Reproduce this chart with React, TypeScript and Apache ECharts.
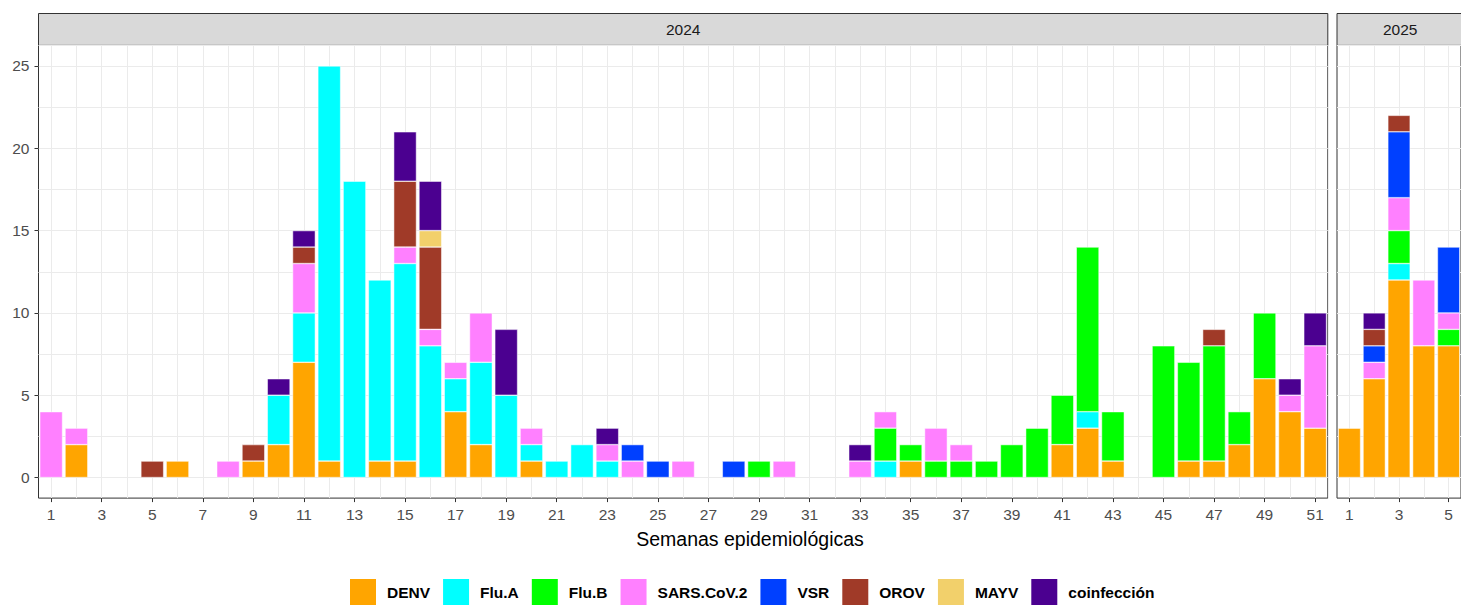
import React, { useEffect, useRef } from "react";
import * as echarts from "echarts";

const weeks2024 = ["1","2","3","4","5","6","7","8","9","10","11","12","13","14","15","16","17","18","19","20","21","22","23","24","25","26","27","28","29","30","31","32","33","34","35","36","37","38","39","40","41","42","43","44","45","46","47","48","49","50","51"];
const weeks2025 = ["1","2","3","4","5"];

const seriesNames = ["DENV", "Flu.A", "Flu.B", "SARS.CoV.2", "VSR", "OROV", "MAYV", "coinfección"];
const seriesColors = ["#FFA500", "#00FFFF", "#00FF00", "#FF80FF", "#0040FF", "#A03A28", "#F2D06B", "#4B0090"];

//                 1 2 3 4 5 6 7 8 9 10 11 12 13 14 15 16 17 18 19 20 21 22 23 24 25 26 27 28 29 30 31 32 33 34 35 36 37 38 39 40 41 42 43 44 45 46 47 48 49 50 51
const denv2024  = [0,2,0,0,0,1,0,0,1, 2, 7, 1, 0, 1, 1, 0, 4, 2, 0, 1, 0, 0, 0, 0, 0, 0, 0, 0, 0, 0, 0, 0, 0, 0, 1, 0, 0, 0, 0, 0, 2, 3, 1, 0, 0, 1, 1, 2, 6, 4, 3];
const fluA2024  = [0,0,0,0,0,0,0,0,0, 3, 3,24,18,11,12, 8, 2, 5, 5, 1, 1, 2, 1, 0, 0, 0, 0, 0, 0, 0, 0, 0, 0, 1, 0, 0, 0, 0, 0, 0, 0, 1, 0, 0, 0, 0, 0, 0, 0, 0, 0];
const fluB2024  = [0,0,0,0,0,0,0,0,0, 0, 0, 0, 0, 0, 0, 0, 0, 0, 0, 0, 0, 0, 0, 0, 0, 0, 0, 0, 1, 0, 0, 0, 0, 2, 1, 1, 1, 1, 2, 3, 3,10, 3, 0, 8, 6, 7, 2, 4, 0, 0];
const sars2024  = [4,1,0,0,0,0,0,1,0, 0, 3, 0, 0, 0, 1, 1, 1, 3, 0, 1, 0, 0, 1, 1, 0, 1, 0, 0, 0, 1, 0, 0, 1, 1, 0, 2, 1, 0, 0, 0, 0, 0, 0, 0, 0, 0, 0, 0, 0, 1, 5];
const vsr2024   = [0,0,0,0,0,0,0,0,0, 0, 0, 0, 0, 0, 0, 0, 0, 0, 0, 0, 0, 0, 0, 1, 1, 0, 0, 1, 0, 0, 0, 0, 0, 0, 0, 0, 0, 0, 0, 0, 0, 0, 0, 0, 0, 0, 0, 0, 0, 0, 0];
const orov2024  = [0,0,0,0,1,0,0,0,1, 0, 1, 0, 0, 0, 4, 5, 0, 0, 0, 0, 0, 0, 0, 0, 0, 0, 0, 0, 0, 0, 0, 0, 0, 0, 0, 0, 0, 0, 0, 0, 0, 0, 0, 0, 0, 0, 1, 0, 0, 0, 0];
const mayv2024  = [0,0,0,0,0,0,0,0,0, 0, 0, 0, 0, 0, 0, 1, 0, 0, 0, 0, 0, 0, 0, 0, 0, 0, 0, 0, 0, 0, 0, 0, 0, 0, 0, 0, 0, 0, 0, 0, 0, 0, 0, 0, 0, 0, 0, 0, 0, 0, 0];
const coinf2024 = [0,0,0,0,0,0,0,0,0, 1, 1, 0, 0, 0, 3, 3, 0, 0, 4, 0, 0, 0, 1, 0, 0, 0, 0, 0, 0, 0, 0, 0, 1, 0, 0, 0, 0, 0, 0, 0, 0, 0, 0, 0, 0, 0, 0, 0, 0, 1, 2];

const denv2025  = [3, 6, 12, 8, 8];
const fluA2025  = [0, 0, 1, 0, 0];
const fluB2025  = [0, 0, 2, 0, 1];
const sars2025  = [0, 1, 2, 4, 1];
const vsr2025   = [0, 1, 4, 0, 4];
const orov2025  = [0, 1, 1, 0, 0];
const mayv2025  = [0, 0, 0, 0, 0];
const coinf2025 = [0, 1, 0, 0, 0];

const yTickValues = [0, 5, 10, 15, 20, 25];

const data2024 = [denv2024, fluA2024, fluB2024, sars2024, vsr2024, orov2024, mayv2024, coinf2024];
const data2025 = [denv2025, fluA2025, fluB2025, sars2025, vsr2025, orov2025, mayv2025, coinf2025];

const FONT = "'Liberation Sans', Arial, Helvetica, sans-serif";

export default function App() {
  const ref = useRef<HTMLDivElement>(null);

  useEffect(() => {
    if (!ref.current) return;
    const chart = echarts.init(ref.current, undefined, { renderer: "svg" });

    const g0 = { left: 38.5, top: 45.4, width: 1289.3, height: 452.7 };
    const g1 = { left: 1337, top: 45.4, width: 126.4, height: 452.7 };

    const oddLabel = (i: number) => i % 2 === 0;
    const helperX0 = Array.from({ length: weeks2024.length * 2 }, (_, i) => "h" + i);
    const helperX1 = Array.from({ length: weeks2025.length * 2 }, (_, i) => "h" + i);
    const helperY = Array.from({ length: 22 }, (_, i) => "v" + i);
    const gridLine = { show: true, interval: (i: number) => i % 2 === 1, lineStyle: { color: "#EBEBEB", width: 1 } };

    const mainX = (gridIndex: number, data: string[]) => ({
      gridIndex,
      type: "category",
      data,
      position: "bottom",
      axisLine: { show: false, onZero: false },
      axisTick: { show: true, alignWithLabel: true, interval: oddLabel, length: 4, lineStyle: { color: "#333333", width: 1 } },
      axisLabel: { interval: oddLabel, margin: 8, color: "#4D4D4D", fontSize: 15.5, fontFamily: FONT },
      splitLine: { show: false },
    });
    const helperXAxis = (gridIndex: number, data: string[]) => ({
      gridIndex,
      type: "category",
      data,
      position: "top",
      axisLine: { show: false, onZero: false },
      axisTick: { show: false },
      axisLabel: { show: false },
      splitLine: gridLine,
    });
    const helperYAxis = (gridIndex: number) => ({
      gridIndex,
      type: "category",
      data: helperY,
      position: "right",
      axisLine: { show: false, onZero: false },
      axisTick: { show: false },
      axisLabel: { show: false },
      splitLine: gridLine,
    });

    const makeSeries = (vals: number[], idx: number, axisIdx: number, stack: string) => ({
      type: "bar",
      name: seriesNames[idx],
      stack,
      xAxisIndex: axisIdx,
      yAxisIndex: axisIdx,
      barCategoryGap: "10%",
      data: vals.map((v) => (v === 0 ? null : v)),
      itemStyle: { color: seriesColors[idx], borderColor: "#FFFFFF", borderWidth: 0.5 },
      emphasis: { disabled: true },
      silent: true,
    });

    const series = [
      ...data2024.map((vals, i) => makeSeries(vals, i, 0, "y2024")),
      ...data2025.map((vals, i) => makeSeries(vals, i, 1, "y2025")),
    ];

    const option: any = {
      animation: false,
      textStyle: { fontFamily: FONT },
      color: seriesColors,
      grid: [
        { ...g0, show: true, backgroundColor: "#FFFFFF", borderColor: "#333333", borderWidth: 1, containLabel: false },
        { ...g1, show: true, backgroundColor: "#FFFFFF", borderColor: "#333333", borderWidth: 1, containLabel: false },
      ],
      xAxis: [mainX(0, weeks2024), mainX(1, weeks2025), helperXAxis(0, helperX0), helperXAxis(1, helperX1)],
      yAxis: [
        {
          gridIndex: 0,
          type: "value",
          min: -1.25,
          max: 26.25,
          axisLine: { show: false, onZero: false },
          axisTick: { show: true, length: 4, customValues: yTickValues, lineStyle: { color: "#333333", width: 1 } },
          axisLabel: { customValues: yTickValues, margin: 9, color: "#4D4D4D", fontSize: 15.5, fontFamily: FONT },
          splitLine: { show: false },
        },
        {
          gridIndex: 1,
          type: "value",
          min: -1.25,
          max: 26.25,
          axisLine: { show: false, onZero: false },
          axisTick: { show: false },
          axisLabel: { show: false },
          splitLine: { show: false },
        },
        helperYAxis(0),
        helperYAxis(1),
      ],
      legend: {
        data: seriesNames,
        left: 348,
        top: 577,
        padding: 0,
        icon: "rect",
        itemWidth: 28,
        itemHeight: 28,
        itemGap: 11,
        selectedMode: false,
        textStyle: { fontSize: 15.5, fontWeight: "bold", color: "#000000", fontFamily: FONT, padding: [0, 0, 0, 5] },
      },
      graphic: [
        {
          type: "rect",
          shape: { x: g0.left, y: 13.5, width: g0.width, height: 31.9 },
          style: { fill: "#D9D9D9", stroke: "#333333", lineWidth: 1 },
        },
        {
          type: "text",
          x: g0.left + g0.width / 2,
          y: 29.5,
          style: { text: "2024", textAlign: "center", textVerticalAlign: "middle", align: "center", verticalAlign: "middle", fontSize: 15.5, fill: "#1A1A1A", fontFamily: FONT },
        },
        {
          type: "rect",
          shape: { x: g1.left, y: 13.5, width: g1.width, height: 31.9 },
          style: { fill: "#D9D9D9", stroke: "#333333", lineWidth: 1 },
        },
        {
          type: "text",
          x: g1.left + g1.width / 2,
          y: 29.5,
          style: { text: "2025", textAlign: "center", textVerticalAlign: "middle", align: "center", verticalAlign: "middle", fontSize: 15.5, fill: "#1A1A1A", fontFamily: FONT },
        },
        {
          type: "text",
          x: 750,
          y: 539,
          style: { text: "Semanas epidemiológicas", textAlign: "center", textVerticalAlign: "middle", align: "center", verticalAlign: "middle", fontSize: 19.5, fill: "#000000", fontFamily: FONT },
        },
      ],
      series,
    };

    chart.setOption(option);
    return () => chart.dispose();
  }, []);

  return (
    <div
      ref={ref}
      style={{ position: "absolute", left: 0, top: 0, width: 1461, height: 605, background: "#FFFFFF" }}
    />
  );
}
